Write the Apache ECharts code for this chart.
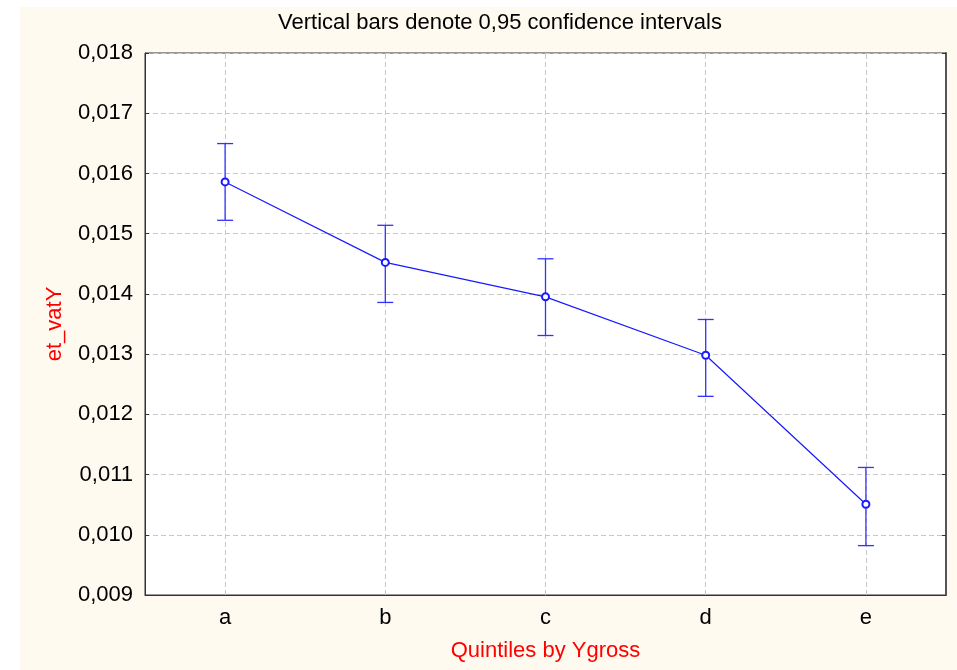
<!DOCTYPE html>
<html><head><meta charset="utf-8">
<script src="https://cdn.jsdelivr.net/npm/echarts@6/dist/echarts.min.js"></script>
<style>html,body{margin:0;padding:0;background:#fff;}
#bg{position:absolute;left:20px;top:7px;width:937px;height:663px;background:#fefaf0;}
#c{position:absolute;left:0;top:0;width:957px;height:670px;}</style>
</head><body><div id="bg"></div><div id="c"></div>
<script>
const categories = ['a','b','c','d','e'];
const means = [0.015859, 0.014523, 0.013951, 0.012981, 0.010507];
const upper = [0.016496, 0.015139, 0.014583, 0.013575, 0.011118];
const lower = [0.015222, 0.013858, 0.013309, 0.012299, 0.009820];
const yTicks = [0.009, 0.010, 0.011, 0.012, 0.013, 0.014, 0.015, 0.016, 0.017, 0.018];

const chart = echarts.init(document.getElementById('c'));
const fmt = v => v.toFixed(3).replace('.', ',');
const ff = '"Liberation Sans", Arial, sans-serif';
const gridLine = {color: '#c8c8c8', type: [5, 3], width: 1};
chart.setOption({
  animation: false,
  backgroundColor: 'transparent',
  title: {text: 'Vertical bars denote 0,95 confidence intervals', left: 495, textAlign: 'center', top: 7,
    textStyle: {fontFamily: ff, fontSize: 22, fontWeight: 'normal', color: '#000'}},
  grid: {left: 145, top: 53, right: 11, bottom: 75, show: true, backgroundColor: '#fff', borderColor: '#333', borderWidth: 1},
  xAxis: {type: 'category', data: categories, boundaryGap: true,
    name: 'Quintiles by Ygross', nameLocation: 'middle', nameGap: 45,
    nameTextStyle: {color: '#ff0000', fontFamily: ff, fontSize: 22},
    axisLine: {lineStyle: {color: '#333'}},
    axisTick: {inside: true, alignWithLabel: true, length: 4, lineStyle: {color: '#333'}},
    axisLabel: {color: '#000', fontFamily: ff, fontSize: 22, margin: 12},
    splitLine: {show: false}},
  yAxis: [{type: 'value', min: yTicks[0], max: yTicks[yTicks.length-1], interval: 0.001,
    name: 'et_vatY', nameLocation: 'middle', nameGap: 79, nameRotate: 90,
    nameTextStyle: {color: '#ff0000', fontFamily: ff, fontSize: 22},
    axisLine: {show: true, lineStyle: {color: '#333'}},
    axisTick: {show: true, inside: true, length: 4, lineStyle: {color: '#333'}},
    axisLabel: {color: '#000', fontFamily: ff, fontSize: 22, margin: 12, formatter: fmt},
    splitLine: {show: true, lineStyle: gridLine}},
   {type: 'value', position: 'right', min: yTicks[0], max: yTicks[yTicks.length-1], interval: 0.001,
    axisLine: {show: true, lineStyle: {color: '#555', width: 2}},
    axisTick: {show: true, inside: true, length: 4, lineStyle: {color: '#333'}},
    axisLabel: {show: false}, splitLine: {show: false}}],
  series: [
    {type: 'custom', z: 3,
     data: categories.map((c, i) => [i, lower[i], upper[i]]),
     renderItem: (params, api) => {
       const x = api.value(0);
       const lo = api.coord([x, api.value(1)]);
       const hi = api.coord([x, api.value(2)]);
       const hw = 8;
       const st = {stroke: '#3333ff', lineWidth: 1.3};
       return {type: 'group', children: [
         {type: 'line', shape: {x1: lo[0], y1: lo[1], x2: hi[0], y2: hi[1]}, style: st},
         {type: 'line', shape: {x1: lo[0]-hw, y1: lo[1], x2: lo[0]+hw, y2: lo[1]}, style: st},
         {type: 'line', shape: {x1: hi[0]-hw, y1: hi[1], x2: hi[0]+hw, y2: hi[1]}, style: st}
       ]};
     }},
    {type: 'line', data: means, z: 4, symbol: 'emptyCircle', symbolSize: 7,
     lineStyle: {color: '#1a1aff', width: 1.2},
     itemStyle: {color: '#1a1aff', borderColor: '#1a1aff', borderWidth: 1.2},
     markLine: {silent: true, symbol: 'none', z: 1, label: {show: false},
       lineStyle: gridLine, emphasis: {disabled: true},
       data: categories.map(c => ({xAxis: c}))}}
  ]
});
</script></body></html>
